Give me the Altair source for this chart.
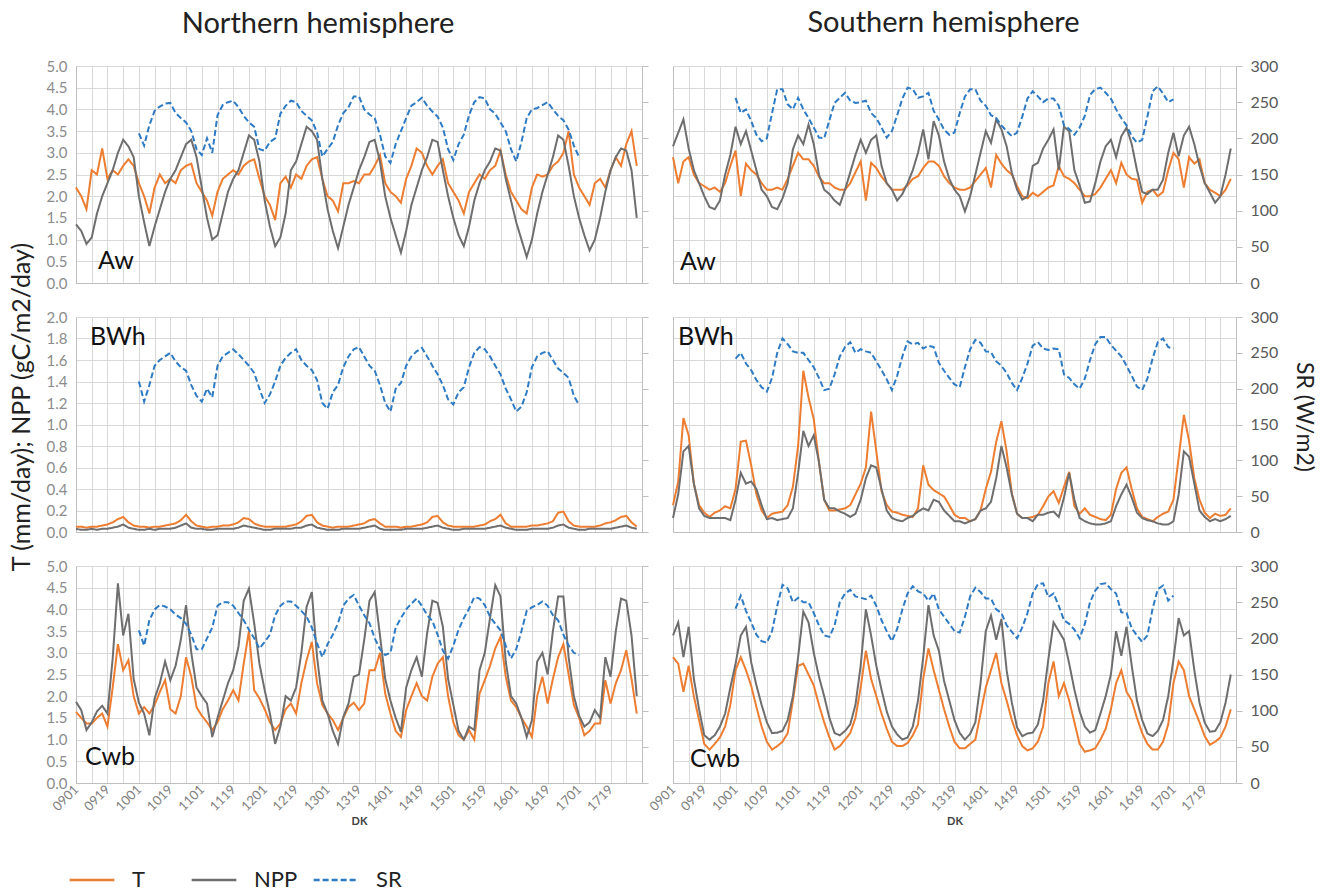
import altair as alt
import pandas as pd

ORANGE = "#ED7D31"
GRAY = "#6E6E6E"
BLUE = "#2E7BC4"
GRID = "#D9D9D9"
DOMAIN = "#BFBFBF"
FONT = "Lato"
SERIES = ["T", "NPP", "SR"]

TICK_LABELS = ["0901", "0919", "1001", "1019", "1101", "1119", "1201", "1219", "1301",
               "1319", "1401", "1419", "1501", "1519", "1601", "1619", "1701", "1719"]

# ---------------- Northern hemisphere, Aw ----------------
N_AW_T = [
    2.2, 2.0, 1.7, 2.6, 2.5, 3.1, 2.4, 2.6, 2.5, 2.7, 2.85, 2.7,
    2.3, 2.0, 1.6, 2.2, 2.5, 2.3, 2.4, 2.3, 2.6, 2.7, 2.75, 2.3,
    2.1, 1.9, 1.55, 2.1, 2.4, 2.5, 2.6, 2.5, 2.7, 2.8, 2.85, 2.4,
    2.0, 1.8, 1.45, 2.3, 2.45, 2.2, 2.5, 2.4, 2.7, 2.85, 2.9, 2.4,
    2.0, 1.9, 1.65, 2.3, 2.3, 2.35, 2.3, 2.5, 2.5, 2.7, 2.95, 2.3,
    2.1, 2.0, 1.85, 2.4, 2.7, 3.1, 3.0, 2.7, 2.5, 2.7, 2.85, 2.3,
    2.1, 1.9, 1.6, 2.1, 2.3, 2.5, 2.4, 2.6, 2.7, 3.05, 2.5, 2.1,
    1.9, 1.7, 1.6, 2.2, 2.5, 2.45, 2.5, 2.7, 2.8, 3.0, 3.5, 2.5,
    2.2, 2.0, 1.8, 2.3, 2.4, 2.2, 2.6, 2.9, 2.7, 3.2, 3.5, 2.7,
]
N_AW_NPP = [
    1.35, 1.2, 0.9, 1.05, 1.6, 2.0, 2.3, 2.6, 3.0, 3.3, 3.15, 2.9,
    2.0, 1.4, 0.85, 1.3, 1.7, 2.1, 2.4, 2.6, 2.9, 3.2, 3.3, 2.9,
    2.2, 1.5, 1.0, 1.1, 1.6, 2.1, 2.4, 2.6, 3.0, 3.4, 3.3, 2.8,
    1.9, 1.3, 0.85, 1.05, 1.6, 2.6, 2.8, 3.2, 3.6, 3.5, 3.3, 2.4,
    1.7, 1.2, 0.8, 1.3, 1.8, 2.2, 2.6, 2.9, 3.25, 3.3, 2.8, 2.0,
    1.5, 1.1, 0.7, 1.2, 1.8, 2.2, 2.6, 2.9, 3.3, 3.25, 2.6, 2.0,
    1.5, 1.1, 0.85, 1.3, 1.9, 2.3, 2.6, 2.8, 3.1, 3.05, 2.4, 1.9,
    1.4, 1.0, 0.6, 1.0, 1.6, 2.1, 2.5, 2.9, 3.4, 3.3, 2.7, 2.0,
    1.5, 1.1, 0.75, 1.0, 1.5, 2.1, 2.6, 2.9, 3.1, 3.05, 2.6, 1.5,
]
N_AW_SR = [
    207, 190, 218, 238, 244, 248, 249, 235, 228, 222, 210, 185,
    177, 200, 180, 232, 246, 250, 252, 243, 231, 222, 216, 185,
    183, 195, 200, 234, 245, 252, 250, 238, 231, 225, 208, 175,
    185, 195, 218, 235, 243, 258, 258, 240, 233, 228, 205, 175,
    166, 192, 210, 228, 245, 250, 256, 245, 237, 230, 215, 185,
    170, 192, 205, 232, 250, 257, 255, 240, 234, 222, 210, 185,
    168, 195, 228, 240, 242, 246, 250, 240, 231, 225, 212, 190,
    174,
]

# ---------------- Northern hemisphere, BWh ----------------
N_BWH_T = [
    0.05, 0.05, 0.04, 0.05, 0.05, 0.06, 0.07, 0.09, 0.12, 0.14, 0.09, 0.06,
    0.05, 0.05, 0.04, 0.05, 0.05, 0.06, 0.07, 0.08, 0.11, 0.16, 0.10, 0.06,
    0.05, 0.04, 0.05, 0.05, 0.06, 0.06, 0.07, 0.09, 0.13, 0.12, 0.08, 0.06,
    0.05, 0.05, 0.05, 0.05, 0.05, 0.06, 0.07, 0.10, 0.15, 0.16, 0.09, 0.06,
    0.05, 0.04, 0.05, 0.05, 0.05, 0.06, 0.07, 0.08, 0.11, 0.12, 0.08, 0.05,
    0.05, 0.05, 0.04, 0.05, 0.05, 0.06, 0.07, 0.09, 0.14, 0.15, 0.09, 0.06,
    0.05, 0.05, 0.05, 0.05, 0.05, 0.06, 0.07, 0.10, 0.12, 0.16, 0.08, 0.05,
    0.05, 0.05, 0.05, 0.06, 0.06, 0.07, 0.08, 0.10, 0.18, 0.19, 0.10, 0.06,
    0.05, 0.05, 0.05, 0.05, 0.06, 0.08, 0.09, 0.11, 0.14, 0.15, 0.09, 0.05,
]
N_BWH_NPP = [
    0.03, 0.02, 0.02, 0.03, 0.02, 0.03, 0.03, 0.04, 0.05, 0.07, 0.04, 0.03,
    0.02, 0.02, 0.03, 0.02, 0.03, 0.03, 0.03, 0.04, 0.06, 0.08, 0.04, 0.03,
    0.03, 0.02, 0.02, 0.03, 0.03, 0.03, 0.03, 0.04, 0.06, 0.05, 0.04, 0.03,
    0.02, 0.02, 0.03, 0.03, 0.03, 0.03, 0.04, 0.04, 0.06, 0.07, 0.04, 0.03,
    0.02, 0.02, 0.02, 0.03, 0.03, 0.03, 0.03, 0.04, 0.05, 0.06, 0.03, 0.02,
    0.02, 0.02, 0.02, 0.03, 0.03, 0.03, 0.03, 0.04, 0.05, 0.06, 0.04, 0.03,
    0.02, 0.02, 0.03, 0.03, 0.03, 0.03, 0.03, 0.04, 0.05, 0.06, 0.04, 0.03,
    0.02, 0.02, 0.02, 0.03, 0.03, 0.03, 0.03, 0.04, 0.06, 0.07, 0.04, 0.03,
    0.02, 0.02, 0.03, 0.03, 0.03, 0.03, 0.03, 0.04, 0.05, 0.06, 0.04, 0.03,
]
N_BWH_SR = [
    210, 182, 205, 232, 240, 245, 250, 238, 230, 225, 205, 190,
    182, 200, 188, 232, 245, 250, 255, 248, 240, 232, 222, 200,
    180, 192, 210, 232, 243, 250, 255, 240, 232, 226, 212, 180,
    172, 195, 205, 230, 245, 255, 258, 245, 232, 225, 205, 180,
    168, 200, 208, 232, 245, 252, 257, 245, 232, 220, 205, 185,
    178, 195, 202, 230, 250, 258, 255, 245, 232, 220, 200, 185,
    168, 175, 195, 230, 245, 250, 252, 240, 228, 222, 215, 190,
    177,
]

# ---------------- Northern hemisphere, Cwb ----------------
N_CWB_T = [
    1.64, 1.5, 1.37, 1.37, 1.5, 1.6, 1.3, 2.2, 3.2, 2.6, 2.83, 2.0,
    1.6, 1.75, 1.6, 1.8, 2.1, 2.37, 1.7, 1.6, 2.0, 2.9, 2.45, 1.75,
    1.55, 1.4, 1.22, 1.4, 1.7, 1.9, 2.14, 1.9, 2.75, 3.5, 2.14, 1.95,
    1.7, 1.4, 1.22, 1.37, 1.7, 1.83, 1.6, 2.3, 2.83, 3.25, 2.3, 1.8,
    1.6, 1.45, 1.22, 1.5, 1.75, 1.85, 1.68, 1.83, 2.6, 2.6, 3.0, 2.06,
    1.6, 1.2, 1.06, 1.68, 2.0, 2.3, 2.0, 1.9, 2.45, 2.75, 2.9, 2.0,
    1.4, 1.1, 1.0, 1.22, 1.0, 2.06, 2.37, 2.7, 3.1, 3.37, 2.45, 1.9,
    1.75, 1.5, 1.3, 1.06, 2.0, 2.45, 1.83, 2.4, 2.9, 3.2, 2.5, 1.8,
    1.5, 1.1, 1.2, 1.37, 1.37, 2.37, 1.83, 2.3, 2.6, 3.06, 2.4, 1.6,
]
N_CWB_NPP = [
    1.87, 1.68, 1.22, 1.4, 1.65, 1.78, 1.6, 2.87, 4.6, 3.4, 3.9, 2.4,
    1.85, 1.6, 1.1, 1.95, 2.3, 2.8, 2.37, 2.7, 3.3, 4.1, 3.0, 2.2,
    2.0, 1.83, 1.06, 1.5, 1.9, 2.3, 2.6, 3.14, 4.2, 4.48, 3.68, 2.75,
    2.14, 1.6, 0.9, 1.3, 2.0, 1.9, 2.2, 3.0, 4.06, 4.4, 2.9, 1.9,
    1.6, 1.2, 0.9, 1.52, 1.83, 2.45, 2.5, 3.3, 4.2, 4.4, 3.4, 2.4,
    1.9, 1.5, 1.18, 2.2, 2.6, 2.9, 2.45, 3.45, 4.2, 4.15, 3.6, 2.4,
    1.8, 1.2, 1.0, 1.3, 1.22, 2.6, 3.0, 3.8, 4.56, 4.3, 2.8, 2.0,
    1.83, 1.5, 1.06, 1.45, 2.8, 3.0, 2.5, 3.5, 4.3, 4.3, 2.9, 2.0,
    1.55, 1.3, 1.4, 1.68, 1.5, 2.9, 2.45, 3.5, 4.25, 4.2, 3.4, 2.0,
]
N_CWB_SR = [
    211, 190, 225, 240, 246, 244, 240, 233, 228, 220, 205, 185,
    185, 200, 215, 245, 250, 250, 245, 235, 225, 212, 200, 186,
    195, 205, 232, 245, 251, 251, 245, 238, 230, 215, 193, 174,
    192, 205, 221, 245, 255, 260, 245, 232, 221, 200, 185, 177,
    180, 215, 228, 240, 248, 255, 245, 232, 224, 205, 183, 172,
    190, 212, 228, 241, 257, 255, 246, 230, 220, 211, 190, 172,
    185, 210, 238, 243, 246, 251, 245, 232, 225, 205, 190, 180,
    177,
]

# ---------------- Southern hemisphere, Aw ----------------
S_AW_T = [
    2.9, 2.3, 2.8, 2.9, 2.5, 2.3, 2.23, 2.15, 2.2, 2.1, 2.3, 2.7,
    3.05, 2.0, 2.75, 2.6, 2.5, 2.3, 2.15, 2.15, 2.2, 2.15, 2.4, 2.7,
    3.0, 2.85, 2.85, 2.7, 2.45, 2.3, 2.3, 2.2, 2.15, 2.15, 2.3, 2.55,
    2.8, 1.9, 2.77, 2.65, 2.45, 2.3, 2.15, 2.15, 2.15, 2.25, 2.4, 2.46,
    2.65, 2.8, 2.8, 2.7, 2.46, 2.3, 2.2, 2.15, 2.15, 2.2, 2.35, 2.5,
    2.65, 2.2, 2.95, 2.75, 2.6, 2.5, 2.23, 2.0, 1.95, 2.08, 2.0, 2.1,
    2.2, 2.25, 2.7, 2.46, 2.4, 2.3, 2.15, 2.0, 2.0, 2.05, 2.2, 2.4,
    2.6, 2.3, 2.77, 2.5, 2.4, 2.38, 1.85, 2.1, 2.15, 2.0, 2.1, 2.6,
    3.0, 2.85, 2.2, 2.9, 2.75, 2.85, 2.3, 2.15, 2.08, 2.0, 2.15, 2.4,
]
S_AW_NPP = [
    3.15, 3.46, 3.77, 3.1, 2.6, 2.3, 2.0, 1.75, 1.7, 1.9, 2.5, 2.95,
    3.6, 3.2, 3.5, 3.05, 2.6, 2.15, 2.0, 1.75, 1.7, 1.95, 2.3, 3.08,
    3.4, 3.2, 3.65, 3.2, 2.5, 2.15, 2.05, 1.9, 1.8, 2.15, 2.55, 2.95,
    3.3, 3.0, 3.3, 3.4, 2.7, 2.3, 2.15, 1.9, 2.05, 2.3, 2.6, 3.0,
    3.54, 2.85, 3.73, 3.4, 2.8, 2.4, 2.15, 2.0, 1.65, 2.0, 2.5, 3.0,
    3.5, 3.23, 3.77, 3.54, 3.15, 2.54, 2.15, 1.92, 2.0, 2.7, 2.77, 3.1,
    3.3, 3.54, 2.6, 3.6, 3.5, 2.6, 2.25, 1.85, 1.88, 2.3, 2.8, 3.15,
    3.3, 2.9, 3.38, 3.58, 3.2, 2.6, 2.1, 2.05, 2.15, 2.15, 2.38, 3.0,
    3.46, 2.92, 3.4, 3.6, 3.2, 2.7, 2.3, 2.08, 1.85, 2.0, 2.5, 3.1,
]
S_AW_SR = [
    256, 235, 240, 224, 205, 196, 200, 235, 268, 268, 247, 240,
    256, 240, 228, 215, 201, 200, 225, 249, 256, 263, 252, 249,
    250, 252, 235, 228, 215, 201, 210, 232, 255, 270, 268, 256,
    258, 263, 238, 226, 212, 205, 208, 235, 258, 268, 268, 252,
    245, 232, 228, 218, 210, 203, 208, 230, 255, 265, 258, 250,
    255, 255, 245, 218, 213, 205, 215, 231, 260, 268, 270, 263,
    255, 240, 228, 218, 203, 194, 198, 230, 265, 272, 262, 250,
    254,
]

# ---------------- Southern hemisphere, BWh ----------------
S_BWH_T = [
    0.25, 0.47, 1.06, 0.9, 0.45, 0.25, 0.18, 0.14, 0.18, 0.2, 0.24, 0.22,
    0.4, 0.84, 0.85, 0.62, 0.35, 0.2, 0.13, 0.17, 0.18, 0.19, 0.25, 0.42,
    0.8, 1.5, 1.25, 1.05, 0.65, 0.3, 0.2, 0.2, 0.21, 0.22, 0.25, 0.35,
    0.45, 0.6, 1.12, 0.75, 0.38, 0.25, 0.19, 0.18, 0.16, 0.15, 0.14, 0.22,
    0.62, 0.44, 0.39, 0.36, 0.33, 0.25, 0.16, 0.13, 0.13, 0.1, 0.12, 0.2,
    0.4, 0.56, 0.84, 1.03, 0.75, 0.36, 0.17, 0.13, 0.13, 0.14, 0.16, 0.24,
    0.33, 0.38, 0.27, 0.42, 0.56, 0.24, 0.17, 0.22, 0.16, 0.14, 0.12, 0.11,
    0.16, 0.4, 0.55, 0.6, 0.4, 0.22, 0.14, 0.12, 0.1, 0.14, 0.17, 0.19,
    0.3, 0.69, 1.09, 0.85, 0.5, 0.3, 0.18, 0.13, 0.17, 0.15, 0.16, 0.22,
]
S_BWH_NPP = [
    0.13, 0.35, 0.75, 0.8, 0.45, 0.22, 0.15, 0.13, 0.13, 0.13, 0.13, 0.11,
    0.3, 0.55, 0.45, 0.47, 0.4, 0.25, 0.12, 0.13, 0.11, 0.12, 0.13, 0.22,
    0.55, 0.94, 0.8, 0.9, 0.65, 0.3, 0.22, 0.22, 0.19, 0.17, 0.14, 0.17,
    0.3, 0.5, 0.62, 0.6, 0.4, 0.2, 0.13, 0.11, 0.1, 0.13, 0.15, 0.19,
    0.22, 0.2, 0.3, 0.28, 0.2, 0.15, 0.1, 0.1, 0.08, 0.1, 0.12, 0.2,
    0.22, 0.28, 0.5, 0.8, 0.6, 0.35, 0.17, 0.13, 0.13, 0.1, 0.16, 0.16,
    0.18, 0.19, 0.14, 0.32, 0.55, 0.3, 0.13, 0.1, 0.08, 0.07, 0.07, 0.08,
    0.1, 0.24, 0.35, 0.44, 0.32, 0.18, 0.13, 0.11, 0.1, 0.08, 0.07, 0.07,
    0.1, 0.35, 0.75, 0.7, 0.45, 0.2, 0.14, 0.1, 0.12, 0.1, 0.12, 0.15,
]
S_BWH_SR = [
    242, 250, 235, 226, 212, 202, 196, 215, 250, 270, 262, 252,
    250, 250, 240, 230, 215, 198, 200, 220, 245, 258, 265, 250,
    255, 252, 250, 238, 226, 213, 198, 218, 245, 266, 262, 264,
    256, 260, 258, 236, 225, 215, 206, 202, 230, 255, 268, 264,
    252, 251, 238, 232, 222, 208, 198, 215, 235, 260, 265, 256,
    254, 256, 255, 220, 215, 206, 200, 214, 240, 262, 272, 272,
    261, 253, 245, 232, 218, 203, 198, 214, 242, 265, 270, 258,
    256,
]

# ---------------- Southern hemisphere, Cwb ----------------
S_CWB_T = [
    2.9, 2.75, 2.1, 2.7, 2.0, 1.45, 0.9, 0.77, 0.9, 1.05, 1.3, 1.8,
    2.6, 2.9, 2.6, 2.24, 1.75, 1.3, 0.95, 0.77, 0.85, 0.95, 1.15, 1.9,
    2.7, 2.75, 2.5, 2.25, 1.8, 1.4, 1.05, 0.77, 0.85, 1.0, 1.15, 1.5,
    2.2, 3.05, 2.4, 2.0, 1.6, 1.25, 0.95, 0.85, 0.85, 0.92, 1.1, 1.35,
    2.4, 3.1, 2.6, 2.15, 1.7, 1.3, 0.95, 0.8, 0.8, 0.9, 1.0, 1.6,
    2.2, 2.6, 3.0, 2.3, 1.9, 1.45, 1.1, 0.85, 0.75, 0.8, 0.95, 1.3,
    2.3, 2.8, 2.0, 2.3, 1.9, 1.4, 0.9, 0.72, 0.75, 0.8, 1.0, 1.25,
    1.7, 2.3, 2.6, 2.1, 1.9, 1.5, 1.15, 0.9, 0.77, 0.77, 0.95, 1.35,
    2.3, 2.8, 2.6, 2.0, 1.7, 1.4, 1.08, 0.88, 0.95, 1.05, 1.3, 1.7,
]
S_CWB_NPP = [
    3.4, 3.7, 2.9, 3.6, 2.4, 1.7, 1.1, 1.0, 1.1, 1.3, 1.6, 2.2,
    2.75, 3.4, 3.6, 2.78, 2.25, 1.8, 1.4, 1.15, 1.16, 1.2, 1.45, 2.0,
    2.9, 3.95, 3.7, 3.0, 2.45, 2.0, 1.5, 1.15, 1.1, 1.2, 1.35, 1.8,
    2.7, 4.0, 3.4, 2.7, 2.15, 1.65, 1.3, 1.12, 1.0, 1.05, 1.3, 1.9,
    2.9, 4.1, 3.4, 3.05, 2.35, 1.9, 1.45, 1.15, 1.0, 1.13, 1.4, 2.3,
    3.5, 3.86, 3.3, 3.78, 2.6, 1.85, 1.28, 1.08, 1.14, 1.16, 1.35, 1.9,
    2.85, 3.7, 3.5, 3.3, 2.75, 2.15, 1.65, 1.3, 1.16, 1.22, 1.6, 2.0,
    2.5, 3.5, 2.93, 3.6, 2.7, 1.9, 1.45, 1.14, 1.08, 1.2, 1.45, 2.0,
    2.85, 3.8, 3.4, 3.5, 2.6, 1.85, 1.39, 1.18, 1.2, 1.4, 1.85, 2.5,
]
S_CWB_SR = [
    241, 259, 238, 222, 205, 196, 194, 210, 245, 274, 269, 250,
    256, 250, 250, 235, 218, 204, 202, 218, 250, 262, 267, 258,
    256, 254, 259, 245, 225, 210, 196, 213, 240, 262, 272, 265,
    262, 252, 262, 240, 230, 220, 210, 208, 230, 258, 270, 264,
    255, 255, 240, 235, 218, 209, 200, 215, 235, 262, 275, 276,
    257, 262, 245, 225, 220, 212, 200, 220, 250, 266, 275, 276,
    268, 262, 236, 235, 214, 204, 195, 204, 241, 268, 273, 252,
    259,
]

XGRID = list(range(0, 325, 9))
LABEL_EXPR = ("(datum.value % 18 == 0 && datum.value <= 306) ? "
              + "[" + ",".join("'" + s + "'" for s in TICK_LABELS) + "][datum.value / 18] : ''")

LEGEND = alt.Legend(
    orient="none", legendX=-8, legendY=790, direction="horizontal", title=None,
    symbolType="stroke", symbolSize=2000, symbolStrokeWidth=2.5,
    labelFont=FONT, labelFontSize=22, labelColor="#222222", labelOffset=16,
    columnPadding=10, gridAlign="all",
)
COLOR = alt.Color("series:N", scale=alt.Scale(domain=SERIES, range=[ORANGE, GRAY, BLUE]), legend=LEGEND)
DASH = alt.StrokeDash("series:N", scale=alt.Scale(domain=SERIES, range=[[1, 0], [1, 0], [6, 3]]), legend=LEGEND)


def x_axis(bottom):
    if bottom:
        return alt.Axis(values=XGRID, labelExpr=LABEL_EXPR, labelAngle=-45, labelAlign="right",
                        labelBaseline="middle", labelFont=FONT, labelFontSize=13, labelColor="#808080",
                        labelPadding=4, labelOverlap=False, labelBound=False, ticks=False,
                        grid=True, gridColor=GRID, domainColor=DOMAIN, title="DK",
                        titleFont=FONT, titleFontSize=11, titleFontWeight="bold",
                        titleColor="#404040", titlePadding=2)
    return alt.Axis(values=XGRID, labels=False, ticks=False, grid=True, gridColor=GRID,
                    domainColor=DOMAIN, title=None)


def panel(t, npp, sr, ymax, label, lx, ly, left_side, bottom, width, height,
          left_title=None, right_title=None, top_title=None, title_dx=0):
    n = len(t)
    dk = list(range(0, 3 * n, 3))
    dk_sr = list(range(36, 36 + 3 * len(sr), 3))
    df_t = pd.DataFrame({"dk": dk, "value": t, "series": "T"})
    df_n = pd.DataFrame({"dk": dk, "value": npp, "series": "NPP"})
    df_s = pd.DataFrame({"dk": dk_sr, "value": sr, "series": "SR"})

    step = ymax / 10.0
    yvals = [round(k * step, 2) for k in range(11)]
    xenc = alt.X("dk:Q", scale=alt.Scale(domain=[0, 324], nice=False, zero=False), axis=x_axis(bottom))

    left_kw = dict(values=yvals, format=".1f", labels=left_side, labelFont=FONT,
                   labelFontSize=15, labelColor="#8C8C8C", labelPadding=9, ticks=False,
                   grid=True, gridColor=GRID, domainColor=DOMAIN,
                   title=left_title, titleFont=FONT, titleFontSize=25,
                   titleFontWeight="normal", titleColor="#222222", titlePadding=12)
    if left_title:
        left_kw["titleY"] = height / 2 - 18
    yleft = alt.Y("value:Q", scale=alt.Scale(domain=[0, ymax], nice=False), axis=alt.Axis(**left_kw))

    right_kw = dict(orient="right", values=[0, 50, 100, 150, 200, 250, 300],
                    labels=not left_side, labelFont=FONT, labelFontSize=16,
                    labelColor="#595959", labelPadding=8, ticks=True, tickSize=6,
                    tickColor=DOMAIN, grid=False, domainColor=DOMAIN,
                    title=right_title, titleFont=FONT, titleFontSize=23,
                    titleFontWeight="normal", titleColor="#222222", titlePadding=14)
    if right_title:
        right_kw["titleY"] = height / 2 - 8
    yright = alt.Y("value:Q", scale=alt.Scale(domain=[0, 300], nice=False), axis=alt.Axis(**right_kw))

    t_line = alt.Chart(df_t).mark_line(strokeWidth=2).encode(x=xenc, y=yleft, color=COLOR, strokeDash=DASH)
    n_line = alt.Chart(df_n).mark_line(strokeWidth=2).encode(x=xenc, y=yleft, color=COLOR, strokeDash=DASH)
    txt = alt.Chart(pd.DataFrame({"label": [label]})).mark_text(
        align="left", baseline="alphabetic", font=FONT, fontSize=25, color="#111111"
    ).encode(x=alt.value(lx), y=alt.value(ly), text="label:N")
    left_layer = alt.layer(t_line, n_line, txt)

    s_line = alt.Chart(df_s).mark_line(strokeWidth=2).encode(x=xenc, y=yright, color=COLOR, strokeDash=DASH)

    ch = alt.layer(left_layer, s_line).resolve_scale(y="independent")
    props = dict(width=width, height=height)
    if top_title:
        props["title"] = alt.TitleParams(top_title, font=FONT, fontSize=29, fontWeight="normal",
                                         color="#222222", anchor="middle", dx=title_dx, offset=20)
    return ch.properties(**props)


WL, WR = 566, 563
p1 = panel(N_AW_T, N_AW_NPP, N_AW_SR, 5.0, "Aw", 22, 203, True, False, WL, 217,
           top_title="Northern hemisphere", title_dx=-41)
p2 = panel(S_AW_T, S_AW_NPP, S_AW_SR, 5.0, "Aw", 7, 204, False, False, WR, 217,
           top_title="Southern hemisphere", title_dx=-11)
p3 = panel(N_BWH_T, N_BWH_NPP, N_BWH_SR, 2.0, "BWh", 14, 28, True, False, WL, 215,
           left_title="T (mm/day); NPP (gC/m2/day)")
p4 = panel(S_BWH_T, S_BWH_NPP, S_BWH_SR, 2.0, "BWh", 5, 28, False, False, WR, 215,
           right_title="SR (W/m2)")
p5 = panel(N_CWB_T, N_CWB_NPP, N_CWB_SR, 5.0, "Cwb", 9, 199, True, True, WL, 217)
p6 = panel(S_CWB_T, S_CWB_NPP, S_CWB_SR, 5.0, "Cwb", 17, 201, False, True, WR, 217)

chart = alt.concat(p1, p2, p3, p4, p5, p6, columns=2, spacing={"row": 34, "column": 31},
                   bounds="flush").properties(
    padding={"left": 8, "top": 8, "right": 5, "bottom": 5}
).configure_view(stroke=None).configure(font=FONT, background="white")

chart.save("out.html", embed_options={"renderer": "svg", "actions": False})
